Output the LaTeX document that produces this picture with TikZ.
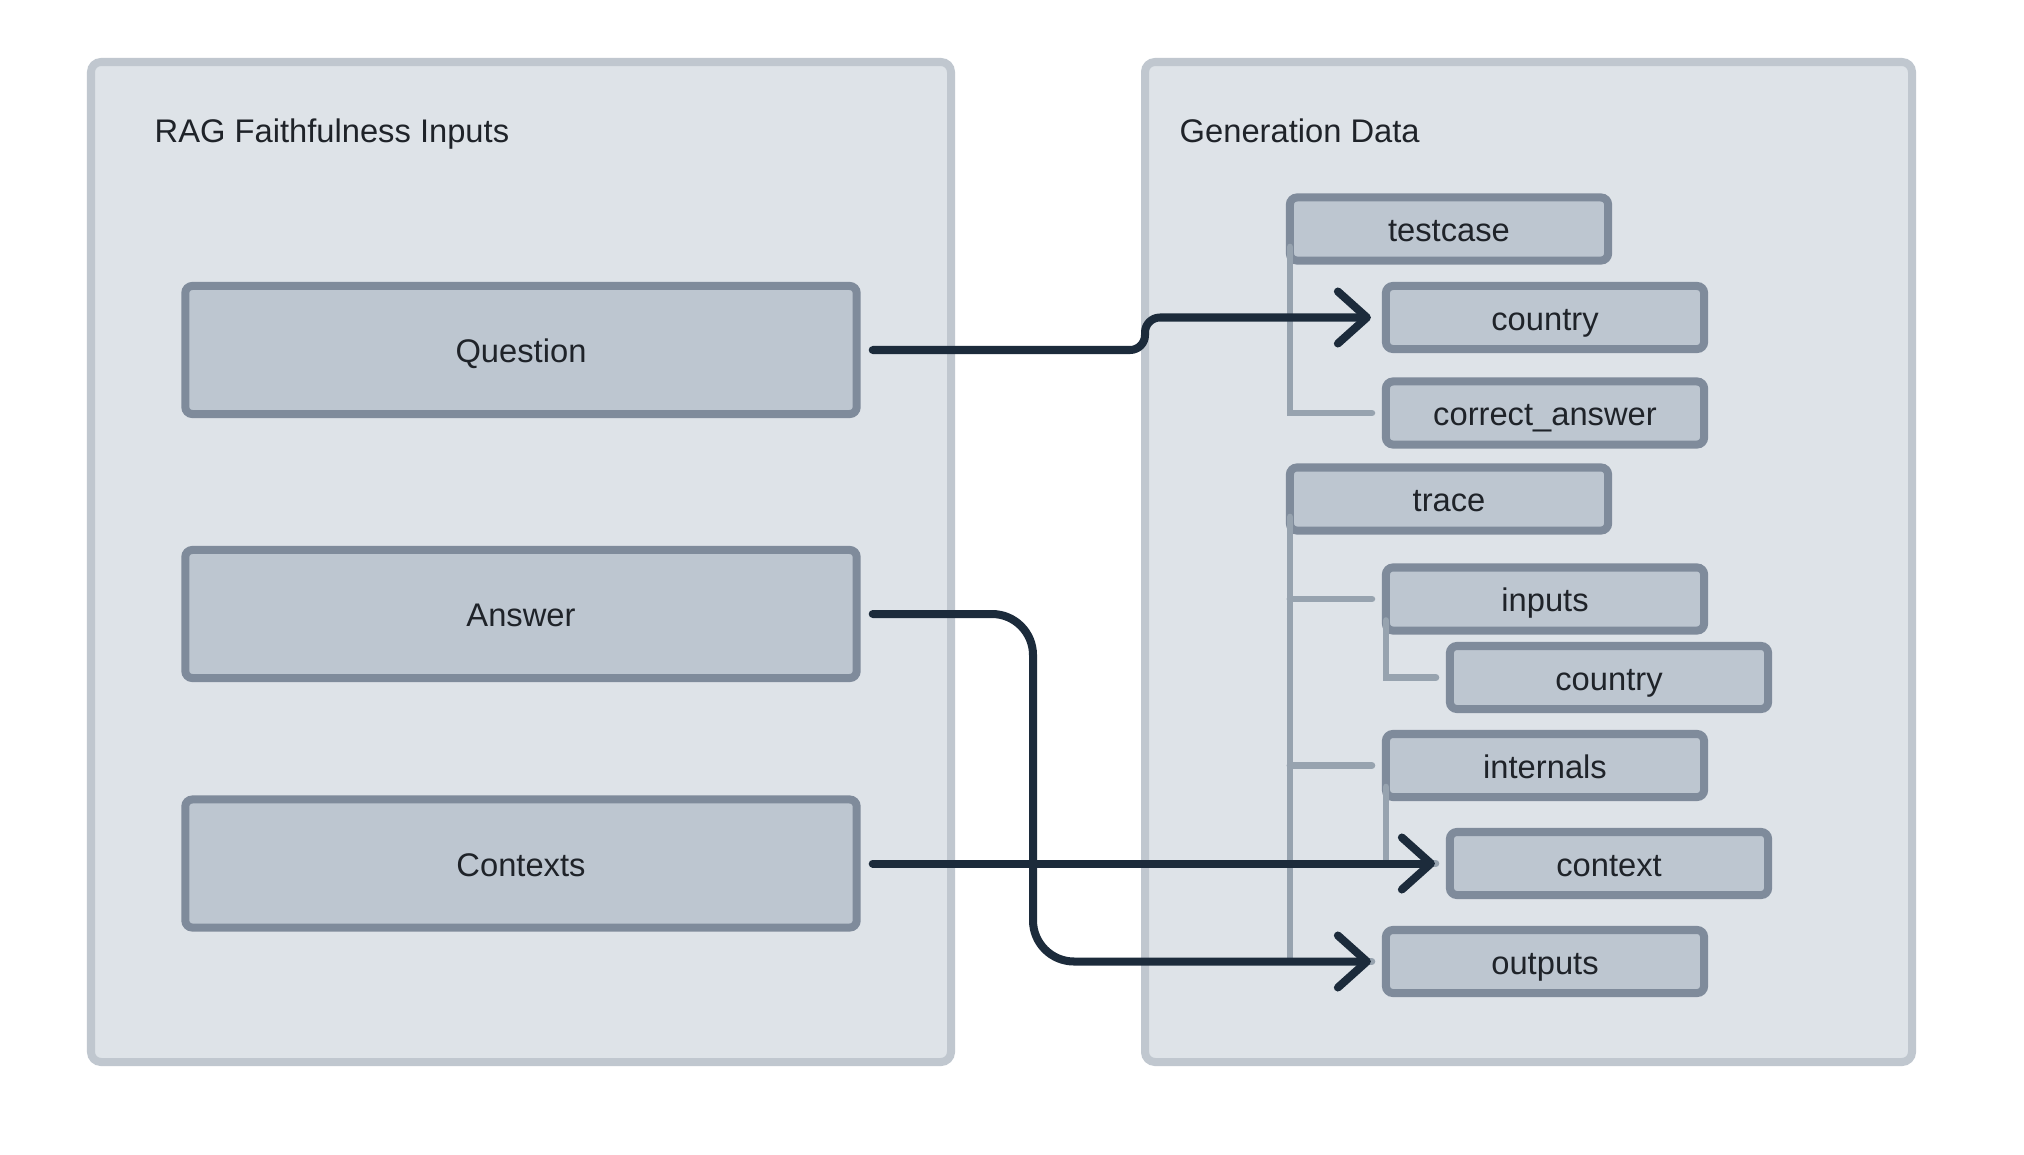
\documentclass[tikz,border=0pt]{standalone}
\usepackage{fontspec}
\setmainfont{Liberation Sans}
\usetikzlibrary{arrows.meta}

\definecolor{panelfill}{HTML}{DEE3E8}
\definecolor{panelline}{HTML}{C0C7CF}
\definecolor{boxfill}{HTML}{BDC6D0}
\definecolor{boxline}{HTML}{7F8B9B}
\definecolor{treeline}{HTML}{97A3AF}
\definecolor{linkdark}{HTML}{1C2B3B}
\definecolor{inkdark}{HTML}{1F2329}

\begin{document}
\begin{tikzpicture}[
    x=0.01cm, y=-0.01cm,
    font=\fontsize{9.3}{11}\selectfont,
    text=inkdark,
    panel/.style={draw=panelline, fill=panelfill, line width=2.28pt, rounded corners=0.1cm},
    field/.style={draw=boxline, fill=boxfill, line width=2.28pt, rounded corners=0.07cm,
      inner sep=0pt, outer sep=0pt, minimum width=3.18cm, minimum height=0.63cm,
      text height=0.716em, text depth=0pt},
    wide/.style={field, minimum width=6.71cm, minimum height=1.28cm},
    title/.style={anchor=base west, inner sep=0pt},
    branch/.style={draw=treeline, line width=1.9pt, line cap=round},
    link/.style={draw=linkdark, line width=2.28pt, line cap=round, line join=round,
      shorten <=0.16cm, shorten >=0.15cm,
      -{Straight Barb[length=0.29cm, width=0.52cm, round]}},
  ]
  \fill[white] (0,0) rectangle (2024,1154);

  % the two panels
  \draw[panel] (91,62) rectangle (951,1062);
  \draw[panel] (1145,62) rectangle (1912,1062);
  \node[title] (lefttitle) at (154,142) {RAG Faithfulness Inputs};
  \node[title] (righttitle) at (1179,142) {Generation Data};

  % inputs
  \node[wide] (question) at (521,350) {Question};
  \node[wide] (answer) at (521,614) {Answer};
  \node[wide] (contexts) at (521,863.5) {Contexts};

  % generation data
  \node[field] (testcase) at (1449,229) {testcase};
  \node[field] (tccountry) at (1545,317.5) {country};
  \node[field] (correct) at (1545,413) {correct\_answer};
  \node[field] (trace) at (1449,499) {trace};
  \node[field] (inputs) at (1545,599) {inputs};
  \node[field] (incountry) at (1609,677.5) {country};
  \node[field] (internals) at (1545,765.5) {internals};
  \node[field] (context) at (1609,863.5) {context};
  \node[field] (outputs) at (1545,961.5) {outputs};

  % tree lines
  \draw[branch] ([yshift=0.135cm]testcase.south west) |- ([xshift=-0.14cm]correct.west);
  \draw[branch] ([yshift=0.135cm]trace.south west) |- ([xshift=-0.14cm]outputs.west);
  \draw[branch] (trace.south west |- inputs.west) -- ([xshift=-0.14cm]inputs.west);
  \draw[branch] (trace.south west |- internals.west) -- ([xshift=-0.14cm]internals.west);
  \draw[branch] ([yshift=0.1cm]inputs.south west) |- ([xshift=-0.14cm]incountry.west);
  \draw[branch] ([yshift=0.1cm]internals.south west) |- ([xshift=-0.14cm]context.west);

  % mappings
  \draw[link, rounded corners=0.15cm] (question.east) -- (1145,350) |- (tccountry.west);
  \draw[link, rounded corners=0.41cm] (answer.east) -| (1033,961.5) -- (outputs.west);
  \draw[link] (contexts.east) -- (context.west);
\end{tikzpicture}
\end{document}
